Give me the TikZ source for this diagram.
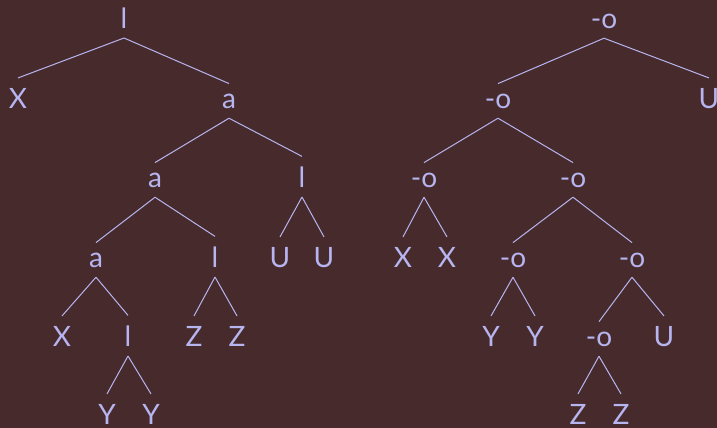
\documentclass[tikz,border=0pt]{standalone}
\usepackage{fontspec}
\setmainfont{Lato}
\definecolor{bg}{RGB}{71,42,44}
\definecolor{fg}{RGB}{183,181,240}

\begin{document}
\begin{tikzpicture}[x=0.5pt,y=-0.5pt]
\fill[bg] (0,0) rectangle (717,428);
\useasboundingbox (0,0) rectangle (717,428);
\tikzstyle{every node}=[text=fg, anchor=base, inner sep=5pt, outer sep=0pt, font=\fontsize{14}{16}\selectfont];
   % left tree
   \node (l1) at (124,28) {l};
   \node (x1) at (18,108) {X};
   \node (a1) at (229,108) {a};
   \node (a2) at (155,187) {a};
   \node (l2) at (302,187) {l};
   \node (a3) at (96,267) {a};
   \node (l3) at (215,267) {l};
   \node (u1) at (280,267) {U};
   \node (u2) at (324,267) {U};
   \node (x2) at (62,346) {X};
   \node (l4) at (128,346) {l};
   \node (z1) at (194,346) {Z};
   \node (z2) at (237,346) {Z};
   \node (y1) at (107,424) {Y};
   \node (y2) at (151,424) {Y};
   % right tree
   \node (o1) at (604,28) {-o};
   \node (o2) at (498,108) {-o};
   \node (u3) at (709,108) {U};
   \node (o3) at (424,187) {-o};
   \node (o4) at (573,187) {-o};
   \node (x3) at (403,267) {X};
   \node (x4) at (447,267) {X};
   \node (o5) at (513,267) {-o};
   \node (o6) at (632,267) {-o};
   \node (y3) at (491,346) {Y};
   \node (y4) at (535,346) {Y};
   \node (o7) at (599,346) {-o};
   \node (u4) at (664,346) {U};
   \node (z3) at (578,424) {Z};
   \node (z4) at (621,424) {Z};
  \foreach \from/\to in {l1/x1,l1/a1,a1/a2,a1/l2,a2/a3,a2/l3,l2/u1,l2/u2,a3/x2,a3/l4,l3/z1,l3/z2,l4/y1,l4/y2,
                         o1/o2,o1/u3,o2/o3,o2/o4,o3/x3,o3/x4,o4/o5,o4/o6,o5/y3,o5/y4,o6/o7,o6/u4,o7/z3,o7/z4}
    \draw[fg, line width=0.5pt] (\from.south) -- (\to.north);
\end{tikzpicture}
\end{document}
